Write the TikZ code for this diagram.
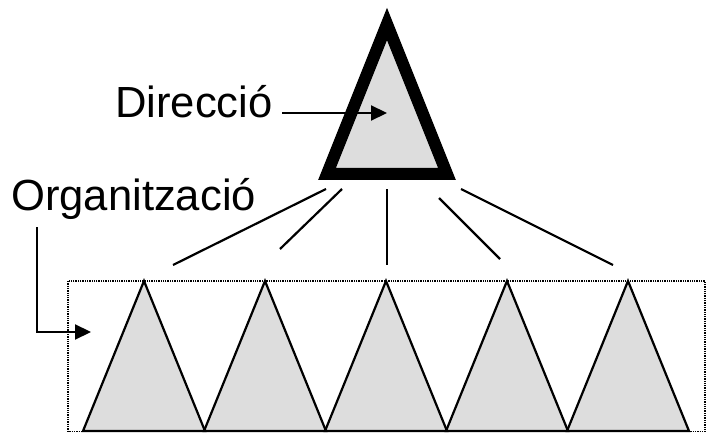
\documentclass[tikz,border=0pt]{standalone}
\usepackage{fontspec}
\setmainfont{Liberation Sans}
\usetikzlibrary{arrows.meta}
\definecolor{tri area}{RGB}{221,221,221}
\tikzset{
  head/.style={fill=tri area, draw=black, line width=12pt, miter limit=10, line join=miter},
  unit/.style={fill=tri area, draw=black, line width=2.2pt, line join=miter}
  }
\tikzstyle{label} = [font=\fontsize{43.6}{52}\selectfont, inner sep=0pt, anchor=base west]
\tikzstyle{link} = [draw, line width=2.2pt, -]
\tikzstyle{pointer} = [draw, line width=2.2pt, -{Triangle[length=16pt,width=15pt]}]
\tikzstyle{frame} = [draw, line width=1.3pt, dash pattern=on 1.3pt off 1pt]

\begin{document}
\begin{tikzpicture}[x=1pt, y=-1pt]
    \useasboundingbox (0,0) rectangle (707,433);

    % The dotted frame round the organisation
    \path[frame] (68,281) rectangle (705,431.5);

    % The small triangles
    \foreach \x in {144, 265, 386, 507, 628} {
      \path[unit] (\x,281) -- ({\x+61},431) -- ({\x-61},431) -- cycle;
    }

    % The head triangle
    \path[head] (387,24) -- (447,174) -- (327,174) -- cycle;

    % The labels
    \node[label] (dir) at (115,118) {Direcció};
    \node[label] (org) at (11,210) {Organització};

    % The end points of the connections
    \foreach \pos/\name in {{(326,189)/h1}, {(342,189)/h2}, {(387,189)/h3}, {(439,198)/h4}, {(461,189)/h5}, {(173,265)/u1}, {(280,249)/u2}, {(387,265)/u3}, {(500,259)/u4}, {(613,265)/u5}} {
      \node[coordinate] (\name) at \pos {};
    }
    \foreach \source/\sink in {h1/u1, h2/u2, h3/u3, h4/u4, h5/u5} {
      \path[link] (\source) -- (\sink);
    }

    % The pointers
    \coordinate (dirtail) at (282,113);
    \coordinate (dirhead) at (387,113);
    \coordinate (orgtail) at (37,227);
    \coordinate (orghead) at (91,332);
    \path[pointer] (dirtail) -- (dirhead);
    \path[pointer] (orgtail) |- (orghead);
\end{tikzpicture}
\end{document}
